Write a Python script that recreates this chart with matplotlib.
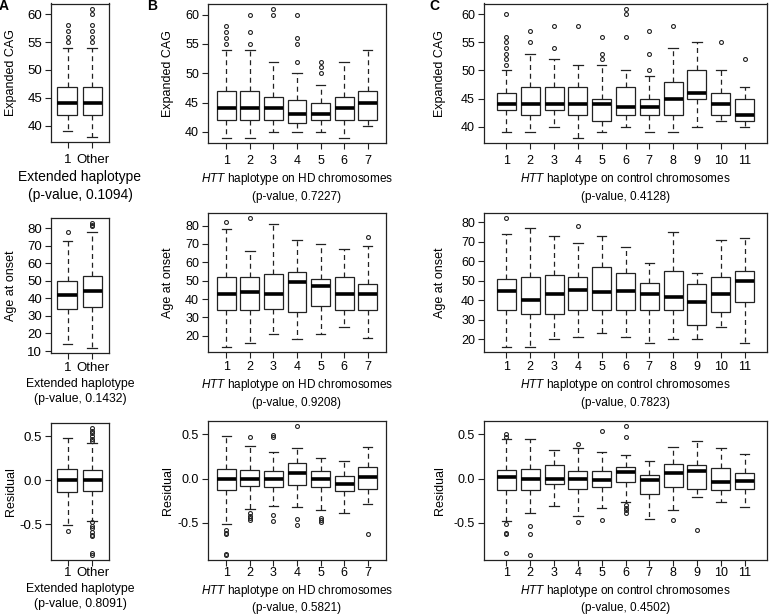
import matplotlib
matplotlib.use("Agg")
import matplotlib.pyplot as plt

plt.rcParams["font.family"] = ["Liberation Sans", "DejaVu Sans"]
plt.rcParams["font.size"] = 8
plt.rcParams["mathtext.fontset"] = "custom"
plt.rcParams["mathtext.rm"] = "Liberation Sans"
plt.rcParams["mathtext.it"] = "Liberation Sans:italic"

# ---- data: [whislo, q1, median, q3, whishi] per group, plus outliers ----
ext_labels = ["1", "Other"]
hd_labels = [str(i) for i in range(1, 8)]
ctrl_labels = [str(i) for i in range(1, 12)]

# Expanded CAG
cag_ext_stats = [[39, 42, 44, 47, 54], [38, 42, 44, 47, 54]]
cag_ext_fliers = [[55, 56, 57, 58], [55, 56, 57, 58, 60, 61]]
cag_hd_stats = [[39, 42, 44, 47, 54], [39, 42, 44, 47, 54], [40, 42, 44, 46, 52],
                [40, 41.5, 43, 45.5, 50], [40, 42, 43, 45, 48], [39, 42, 44, 46, 52],
                [41, 42, 45, 47, 54]]
cag_hd_fliers = [[55, 56, 57, 58], [55, 57, 60], [60, 61], [52, 55, 56, 60],
                 [50, 51, 52], [], []]
cag_ctrl_stats = [[39, 43, 44, 46, 50], [39, 42, 44, 47, 53], [40, 43, 44, 47, 52],
                  [38, 42, 44, 47, 51], [39, 41, 44, 45, 51], [40, 42, 43.5, 47, 50],
                  [39, 42, 43.5, 45, 49], [39, 42, 45, 48, 54], [40, 45, 46, 50, 55],
                  [41, 42, 44, 46, 50], [40, 41, 42, 45, 47]]
cag_ctrl_fliers = [[51, 52, 53, 54, 55, 56, 60], [55, 57], [54, 58], [58], [52, 53, 56],
                   [56, 60, 61], [50, 53, 57], [58], [], [55], [52]]

# Age at onset
age_ext_stats = [[14, 34, 42, 50, 73], [12, 35, 44, 53, 78]]
age_ext_fliers = [[78], [81, 82, 83]]
age_hd_stats = [[14, 34, 43, 52, 78], [16, 34, 44, 52, 66], [21, 34.5, 43, 53.5, 81],
                [18, 33, 49.5, 54.5, 72], [21, 36, 47, 51, 70], [25, 34, 43, 52, 67],
                [19, 34, 43, 48, 69]]
age_hd_fliers = [[82], [84], [], [], [], [], [74]]
age_ctrl_stats = [[16, 35, 44.5, 51, 74], [16, 33, 40, 52, 77], [20, 33, 43, 53, 73],
                  [21, 35, 45, 52, 69], [23, 35, 44, 57, 73], [21, 35, 44.5, 54, 67],
                  [18, 35, 43, 49, 59], [20, 35, 41.5, 55, 75], [20, 27, 39, 48, 54],
                  [26, 34, 43, 52, 71], [18, 39, 50, 55, 72]]
age_ctrl_fliers = [[82], [], [], [78], [], [], [], [], [], [], []]

# Residual
res_ext_stats = [[-0.51, -0.14, 0.0, 0.12, 0.48], [-0.46, -0.12, 0.0, 0.11, 0.42]]
res_ext_fliers = [[-0.58],
                  [0.44, 0.47, 0.50, 0.53, 0.56, 0.59,
                   -0.48, -0.52, -0.55, -0.59, -0.62, -0.64, -0.83, -0.85]]
res_hd_stats = [[-0.51, -0.13, 0.0, 0.11, 0.48], [-0.34, -0.08, 0.0, 0.10, 0.37],
                [-0.31, -0.10, 0.0, 0.08, 0.30], [-0.32, -0.07, 0.06, 0.18, 0.34],
                [-0.35, -0.10, -0.01, 0.09, 0.23], [-0.39, -0.14, -0.06, 0.03, 0.20],
                [-0.29, -0.12, 0.02, 0.13, 0.36]]
res_hd_fliers = [[-0.58, -0.61, -0.63, -0.85, -0.86], [0.47, -0.39, -0.42, -0.44, -0.47],
                 [0.47, 0.49, -0.41, -0.48], [0.59, -0.46, -0.52], [-0.44, -0.47, -0.49],
                 [], [-0.62]]
res_ctrl_stats = [[-0.48, -0.13, 0.02, 0.10, 0.44], [-0.39, -0.13, 0.0, 0.11, 0.44],
                  [-0.31, -0.06, 0.0, 0.15, 0.32], [-0.42, -0.12, 0.0, 0.08, 0.34],
                  [-0.33, -0.10, -0.02, 0.08, 0.30], [-0.27, -0.04, 0.07, 0.13, 0.26],
                  [-0.46, -0.17, -0.02, 0.04, 0.20], [-0.36, -0.09, 0.06, 0.16, 0.35],
                  [-0.21, -0.12, 0.08, 0.15, 0.42], [-0.26, -0.13, -0.04, 0.12, 0.34],
                  [-0.32, -0.12, -0.03, 0.06, 0.28]]
res_ctrl_fliers = [[0.47, 0.50, -0.51, -0.61, -0.62, -0.84], [-0.54, -0.63, -0.86], [],
                   [0.39, -0.49], [0.54, -0.47], [0.47, 0.59, -0.30, -0.33, -0.35, -0.39],
                   [], [-0.47], [-0.58], [], []]

ext_pvals = ["0.1094", "0.1432", "0.8091"]
hd_pvals = ["0.7227", "0.9208", "0.5821"]
ctrl_pvals = ["0.4128", "0.7823", "0.4502"]
row_names = ["Expanded CAG", "Age at onset", "Residual"]

# ---- layout (pixels) ----
W, H = 769, 615
fig = plt.figure(figsize=(W / 100, H / 100), dpi=100)

col_x = {"A": (51, 109), "B": (208, 386), "C": (484, 767)}
rows_y = {"A": [(3.5, 142), (218, 352.5), (423, 560)],
          "B": [(3.5, 143), (213, 352), (421, 560)],
          "C": [(3.5, 143), (213, 352), (421, 560)]}
col_xlim = {"A": (0.34, 2.66), "B": (0.22, 7.78), "C": (0.06, 11.94)}
# right edge of the rotated y label (pixels)
ylabel_x = {"A": 16.5, "B": 174, "C": 446}
tick_size = {"A": 9.5, "B": 9, "C": 9}
xlab_size = {"A": [10, 8.8, 8.8], "B": [8.5] * 3, "C": [8.5] * 3}
row_pad = [4.7, 2.6, 0.8]

yticks = [[40, 45, 50, 55, 60], None, [-0.5, 0.0, 0.5]]
age_ticks = {"A": list(range(10, 90, 10)), "B": list(range(20, 90, 10)),
             "C": list(range(20, 90, 10))}

panels = {
    "A": (ext_labels, [cag_ext_stats, age_ext_stats, res_ext_stats],
          [cag_ext_fliers, age_ext_fliers, res_ext_fliers], ext_pvals,
          "Extended haplotype"),
    "B": (hd_labels, [cag_hd_stats, age_hd_stats, res_hd_stats],
          [cag_hd_fliers, age_hd_fliers, res_hd_fliers], hd_pvals,
          r"$\it{HTT}$ haplotype on HD chromosomes"),
    "C": (ctrl_labels, [cag_ctrl_stats, age_ctrl_stats, res_ctrl_stats],
          [cag_ctrl_fliers, age_ctrl_fliers, res_ctrl_fliers], ctrl_pvals,
          r"$\it{HTT}$ haplotype on control chromosomes"),
}

edge = "#222222"
for key, (labels, stat_rows, flier_rows, pvals, xname) in panels.items():
    x0, x1 = col_x[key]
    for r in range(3):
        y0, y1 = rows_y[key][r]
        ax = fig.add_axes([x0 / W, 1 - y1 / H, (x1 - x0) / W, (y1 - y0) / H])
        stats = []
        for s, f in zip(stat_rows[r], flier_rows[r]):
            stats.append(dict(whislo=s[0], q1=s[1], med=s[2], q3=s[3], whishi=s[4], fliers=f))
        ax.bxp(stats, positions=range(1, len(stats) + 1), widths=0.8, capwidths=0.4,
               patch_artist=True,
               boxprops=dict(facecolor="white", edgecolor=edge, linewidth=0.9),
               medianprops=dict(color="black", linewidth=2.6, solid_capstyle="butt"),
               whiskerprops=dict(color=edge, linewidth=0.9, linestyle=(0, (4, 3))),
               capprops=dict(color=edge, linewidth=0.9),
               flierprops=dict(marker="o", markersize=2.8, markerfacecolor="none",
                               markeredgecolor=edge, markeredgewidth=0.8))
        # R-style 4% padding on the y range
        vals = [v for s in stat_rows[r] for v in (s[0], s[4])]
        vals += [v for f in flier_rows[r] for v in f]
        lo, hi = min(vals), max(vals)
        pad = 0.04 * (hi - lo)
        ax.set_ylim(lo - pad, hi + pad)
        ax.set_xlim(*col_xlim[key])
        ax.set_xticks(range(1, len(labels) + 1))
        ax.set_xticklabels(labels)
        ax.set_yticks(age_ticks[key] if r == 1 else yticks[r])
        if r == 2:
            ax.set_yticklabels(["-0.5", "0.0", "0.5"])
        ax.tick_params(direction="out", length=4, width=0.8, color=edge,
                       labelsize=tick_size[key])
        ax.tick_params(axis="x", pad=row_pad[r])
        ax.tick_params(axis="y", pad=2.5)
        for sp in ax.spines.values():
            sp.set_color(edge)
            sp.set_linewidth(0.9)
        ax.set_ylabel(row_names[r], fontsize=9)
        ax.yaxis.set_label_coords((ylabel_x[key] - x0) / (x1 - x0), 0.5)
        ax.set_xlabel(xname + "\n" + f"(p-value, {pvals[r]})", fontsize=xlab_size[key][r],
                      linespacing=1.4, labelpad=2.8)

fig.text(4 / W, 1 - 6.5 / H, "A", fontsize=10, fontweight="bold", va="center", ha="center")
fig.text(152 / W, 1 - 6.5 / H, "B", fontsize=10, fontweight="bold", va="center", ha="center")
fig.text(434 / W, 1 - 6.5 / H, "C", fontsize=10, fontweight="bold", va="center", ha="center")

fig.savefig("out.png", dpi=100)
